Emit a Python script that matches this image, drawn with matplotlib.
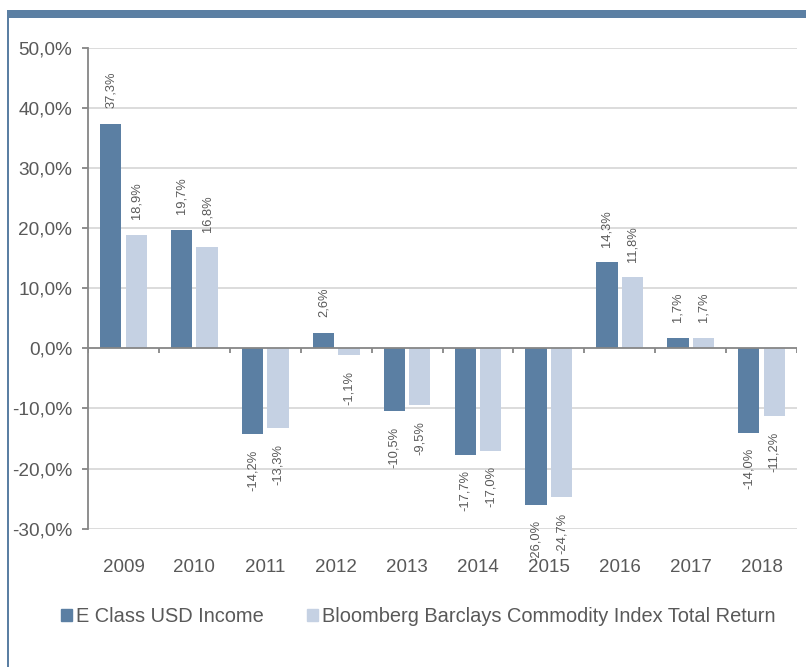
import matplotlib
matplotlib.use("Agg")
import matplotlib.pyplot as plt
from matplotlib.patches import Rectangle
import numpy as np

years = ["2009", "2010", "2011", "2012", "2013", "2014", "2015", "2016", "2017", "2018"]
e_class = [37.3, 19.7, -14.2, 2.6, -10.5, -17.7, -26.0, 14.3, 1.7, -14.0]
bbci = [18.9, 16.8, -13.3, -1.1, -9.5, -17.0, -24.7, 11.8, 1.7, -11.2]
series_names = ["E Class USD Income", "Bloomberg Barclays Commodity Index Total Return"]
yticks = [-30, -20, -10, 0, 10, 20, 30, 40, 50]

dark = "#5b7fa3"
light = "#c5d1e3"
txt = "#595959"
axc = "#868686"
grid = "#d9d9d9"

plt.rcParams['font.family'] = ['Liberation Sans', 'DejaVu Sans']

W, H = 806, 667
fig = plt.figure(figsize=(W / 100, H / 100), dpi=100)
ax = fig.add_axes([88 / W, 1 - 528.7 / H, (797 - 88) / W, (528.7 - 47.7) / H])

x = np.arange(len(years))
bw = 0.30
off = 0.18
ax.bar(x - off, e_class, width=bw, color=dark, zorder=3)
ax.bar(x + off, bbci, width=bw, color=light, zorder=3)

def fmt(v):
    return ("%.1f%%" % v).replace(".", ",")

pad = 2.6
for xs, vals in ((x - off, e_class), (x + off, bbci)):
    for xi, v in zip(xs, vals):
        if v >= 0:
            ax.text(xi, v + pad, fmt(v), rotation=90, ha="center", va="bottom",
                    fontsize=9.3, color=txt, zorder=4)
        else:
            ax.text(xi, v - pad, fmt(v), rotation=90, ha="center", va="top",
                    fontsize=9.3, color=txt, zorder=4)

ax.set_xlim(-0.5, len(years) - 0.5)
ax.set_ylim(-30, 50)
ax.set_yticks(yticks)
ax.set_yticklabels([fmt(t) for t in yticks])
for t in yticks:
    if t != 0:
        ax.axhline(t, color=grid, lw=1.3, zorder=1)
ax.axhline(0, color=axc, lw=1.3, zorder=4)
ax.vlines(np.arange(len(years) + 1) - 0.5, -0.85, 0, color=axc, lw=1.3, zorder=4)

ax.set_xticks(x)
ax.set_xticklabels(years)
ax.tick_params(axis="x", length=0, pad=22, labelsize=13.5, labelcolor=txt)
ax.tick_params(axis="y", length=4.3, width=1.3, color=axc, labelsize=13.7, labelcolor=txt, pad=7)

for s in ["top", "right", "bottom"]:
    ax.spines[s].set_visible(False)
ax.spines["left"].set_color(axc)
ax.spines["left"].set_linewidth(1.3)
ax.spines["left"].set_zorder(5)

handles = [Rectangle((0, 0), 1, 1, color=dark), Rectangle((0, 0), 1, 1, color=light)]
fig.legend(handles, series_names, loc="center", bbox_to_anchor=(418 / W, 1 - 617 / H),
           ncol=2, frameon=False, fontsize=14.4, labelcolor=txt,
           handlelength=0.55, handleheight=0.55, handletextpad=0.2, columnspacing=2.15)

# decorative frame
fig.add_artist(Rectangle((8 / W, 1 - 18 / H), 1 - 8 / W, 8 / H, transform=fig.transFigure,
                         color=dark, lw=0))
fig.add_artist(Rectangle((7 / W, 0), 2 / W, 1 - 10 / H, transform=fig.transFigure,
                         color=dark, lw=0))

fig.savefig("out.png", dpi=100)
